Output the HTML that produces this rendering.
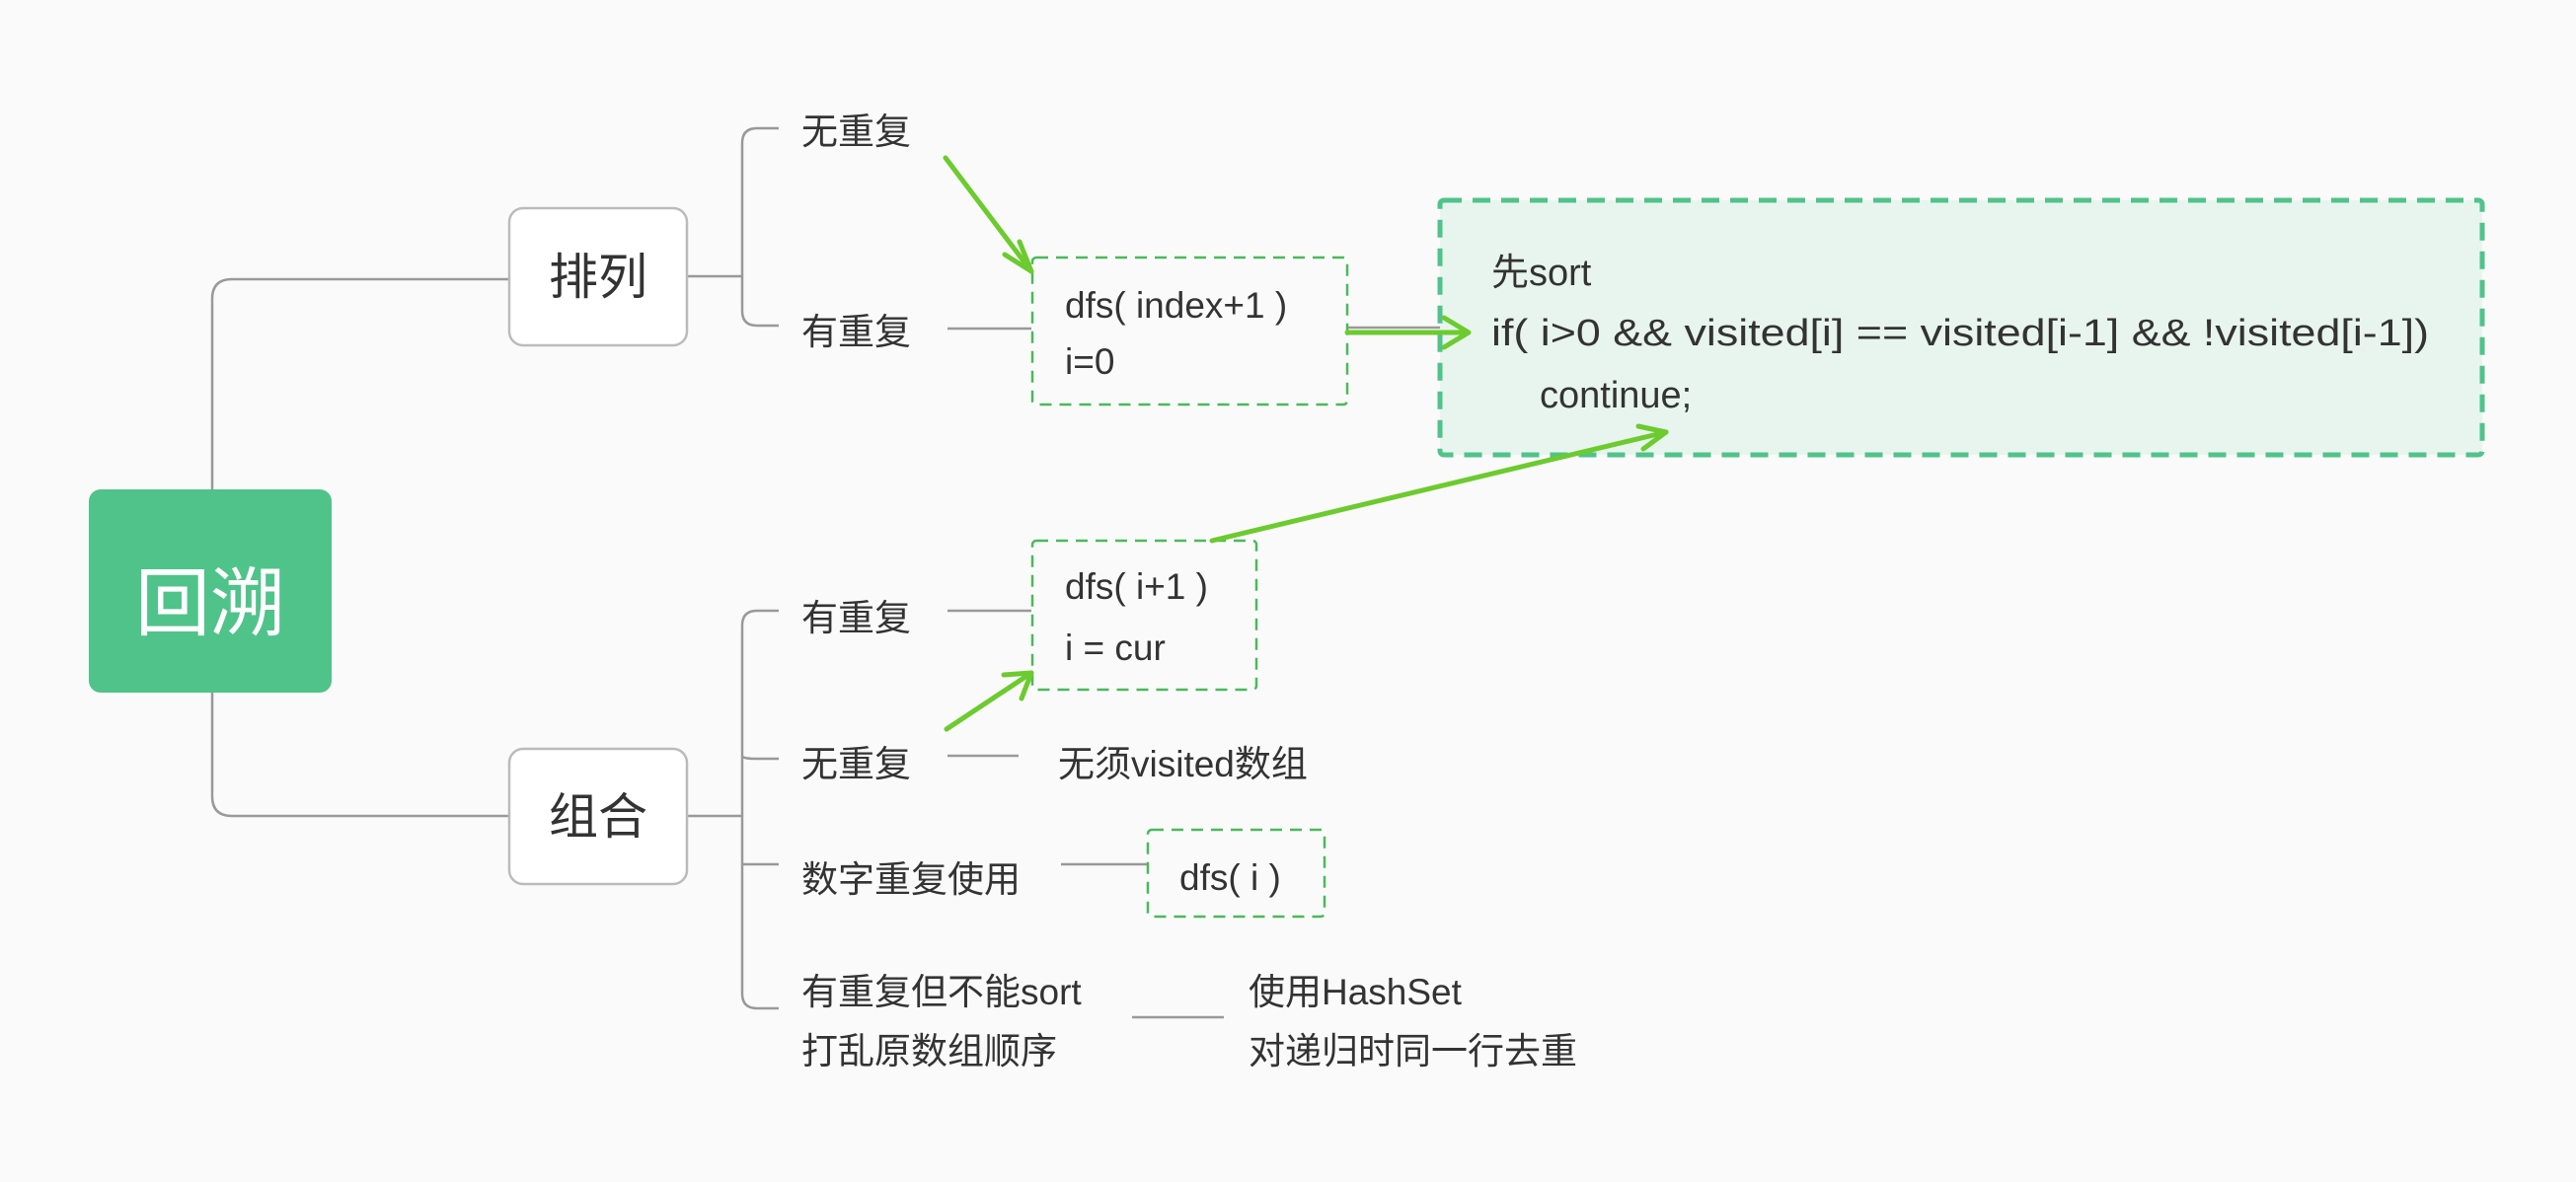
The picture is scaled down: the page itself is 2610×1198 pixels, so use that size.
<!DOCTYPE html>
<html><head><meta charset="utf-8"><style>
html,body{margin:0;padding:0;background:#fafafa;}
svg{display:block}
text{font-family:"Liberation Sans","Noto Sans CJK SC",sans-serif;fill:#333;}
</style></head><body>
<svg width="2610" height="1198" viewBox="0 0 2610 1198" xmlns="http://www.w3.org/2000/svg">
<rect width="2610" height="1198" fill="#fafafa"/>
<g fill="none" stroke="#999" stroke-width="2.5">
<path d="M215 496 V303 Q215 283 235 283 H516"/>
<path d="M215 702 V807 Q215 827 235 827 H516"/>
<path d="M696 280 H752"/>
<path d="M789 130 H767 Q752 130 752 145 V315 Q752 330 767 330 H789"/>
<path d="M960 333 H1045"/>
<path d="M696 827 H752"/>
<path d="M789 619 H767 Q752 619 752 634 V1007 Q752 1022 767 1022 H789"/>
<path d="M752 766 Q752 769 767 769 H789"/>
<path d="M752 876 Q752 876 767 876 H789"/>
<path d="M960 619 H1045"/>
<path d="M960 766 H1032"/>
<path d="M1075 876 H1162"/>
<path d="M1147 1031 H1240"/>
<path d="M1365 332 H1488"/>
</g>
<rect x="90" y="496" width="246" height="206" rx="12" fill="#50c38a"/>
<text x="213" y="638" font-size="76" text-anchor="middle" style="fill:#fff">回溯</text>
<rect x="516" y="211" width="180" height="139" rx="14" fill="#fff" stroke="#bbb" stroke-width="2.5"/>
<text x="606" y="298" font-size="50" text-anchor="middle">排列</text>
<rect x="516" y="759" width="180" height="137" rx="14" fill="#fff" stroke="#bbb" stroke-width="2.5"/>
<text x="606" y="845" font-size="50" text-anchor="middle">组合</text>
<g font-size="37">
<text x="812" y="146">无重复</text>
<text x="812" y="349">有重复</text>
<text x="812" y="639">有重复</text>
<text x="812" y="787">无重复</text>
<text x="812" y="904">数字重复使用</text>
<text x="812" y="1018">有重复但不能sort</text>
<text x="812" y="1078">打乱原数组顺序</text>
<text x="1072" y="787">无须visited数组</text>
<text x="1265" y="1018">使用HashSet</text>
<text x="1265" y="1078">对递归时同一行去重</text>
</g>
<g fill="none" stroke="#4cb85c" stroke-width="2.5" stroke-dasharray="12 8">
<rect x="1046" y="261" width="319" height="149" rx="4"/>
<rect x="1046" y="548" width="227" height="151" rx="4"/>
<rect x="1163" y="841" width="179" height="88" rx="4"/>
</g>
<g font-size="37">
<text x="1079" y="322">dfs( index+1 )</text>
<text x="1079" y="379">i=0</text>
<text x="1079" y="607">dfs( i+1 )</text>
<text x="1079" y="669">i = cur</text>
<text x="1195" y="902">dfs( i )</text>
</g>
<rect x="1459" y="203" width="1056" height="258" rx="4" fill="#e8f5ee" stroke="#50c38a" stroke-width="5" stroke-dasharray="18 11"/>
<g font-size="38">
<text x="1511" y="289">先sort</text>
<text x="1511" y="350" textLength="950" lengthAdjust="spacingAndGlyphs">if( i&gt;0 &amp;&amp; visited[i] == visited[i-1] &amp;&amp; !visited[i-1])</text>
<text x="1560" y="413">continue;</text>
</g>
<g fill="none" stroke="#6ccb2e" stroke-width="5" stroke-linecap="round" stroke-linejoin="round">
<path d="M1365 337 H1486"/><path d="M1463 322 L1488 337 L1463 352"/>
<path d="M958 160 L1045 275"/><path d="M1033 245 L1045 275 L1018 258"/>
<path d="M1228 548 L1688 438"/><path d="M1660 432 L1688 438 L1665 455"/>
<path d="M959 739 L1045 682"/><path d="M1017 684 L1045 682 L1035 708"/>
</g>
</svg>
</body></html>
